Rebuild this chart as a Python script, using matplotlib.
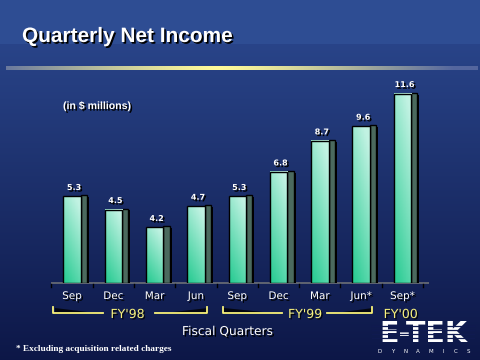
import numpy as np
import matplotlib
matplotlib.use('Agg')
import matplotlib.pyplot as plt
from matplotlib.patches import Rectangle, Polygon
import matplotlib.patheffects as pe

quarters = ['Sep', 'Dec', 'Mar', 'Jun', 'Sep', 'Dec', 'Mar', 'Jun*', 'Sep*']
bar_heights = [5.3, 4.5, 3.4, 4.7, 5.3, 6.8, 8.7, 9.6, 11.6]
value_labels = ['5.3', '4.5', '4.2', '4.7', '5.3', '6.8', '8.7', '9.6', '11.6']
fiscal_years = ["FY'98", "FY'99", "FY'00"]

W, H = 480, 360
fig = plt.figure(figsize=(4.8, 3.6), dpi=100)

# background in pixel coordinates (y down)
bg = fig.add_axes([0, 0, 1, 1])
bg.set_xlim(0, W)
bg.set_ylim(H, 0)
bg.axis('off')
top = np.array([0.175, 0.29, 0.57])
bot = np.array([0.05, 0.09, 0.28])
t = np.linspace(0, 1, 200)[:, None]
grad = top * (1 - t) + bot * t
bg.imshow(grad[:, None, :], extent=[0, W, H, 0], aspect='auto', zorder=0)
bg.add_patch(Rectangle((0, 0), W, 44, color=(0.18, 0.30, 0.575), lw=0, zorder=0.5))

shadow = [pe.withSimplePatchShadow(offset=(1.2, -1.2), shadow_rgbFace='black', alpha=1)]

# title
bg.text(22, 42, 'Quarterly Net Income', fontsize=15, fontweight='bold',
        family='Liberation Sans', color='white', va='baseline', path_effects=shadow, zorder=3)

# yellow gradient rule
xs = np.linspace(-1, 1, 300)
w = np.clip(1 - np.abs(xs + 0.1) ** 1.3, 0, 1)[:, None]
c_end = np.array([0.33, 0.40, 0.62])
c_mid = np.array([1.0, 0.98, 0.60])
rule = c_end * (1 - w) + c_mid * w
bg.imshow(rule[None, :, :], extent=[6, 478, 70, 66], aspect='auto', zorder=1)
bg.set_xlim(0, W)
bg.set_ylim(H, 0)

bg.text(63, 106, '(in $ millions)', fontsize=7.6, fontweight='bold', family='Liberation Sans',
        color='white', va='center', path_effects=shadow, zorder=3)

# main chart axes: y=0 at pixel 283, 16.35 px per unit, 41.3 px per category
ax = fig.add_axes([51.35 / W, 77 / H, 377.9 / W, 196 / H])
ax.set_xlim(-0.5, 8.65)
ax.set_ylim(0, 12)
ax.axis('off')
ax.patch.set_alpha(0)

px_x = 1 / 41.3
px_y = 1 / 16.35

# floor
ax.add_patch(Rectangle((-0.5, -1.5 * px_y), 9.15, 3 * px_y, color='#5d6270', lw=0, zorder=1, clip_on=False))
for b in np.arange(-0.5, 9.0, 1.0):
    ax.plot([b, b], [-1.5 * px_y, -4.5 * px_y], color='black', lw=1, zorder=1, clip_on=False)

front_w = 17.4 * px_x
side_w = 6.3 * px_x
green = np.array([0.17, 0.80, 0.58])
light = np.array([0.76, 0.95, 0.89])
gy, gx = np.mgrid[0:1:60j, 0:1:12j]
tt = np.clip(0.8 * gy + 0.35 * gx - 0.05, 0, 1)[..., None]
front_img = green * (1 - tt) + light * tt

for i, (h, lab) in enumerate(zip(bar_heights, value_labels)):
    x0 = i - front_w / 2
    x1 = x0 + front_w
    # shadow
    ax.add_patch(Rectangle((x0 + 2 * px_x, -1 * px_y), front_w + side_w, h, color='black', lw=0, zorder=2))
    # side face
    ax.add_patch(Polygon([(x1, 0), (x1 + side_w, 0), (x1 + side_w, h + 1 * px_y), (x1, h + 1 * px_y)],
                         closed=True, facecolor='#4b6a5e', edgecolor='black', lw=1, zorder=3))
    ax.imshow(front_img, extent=[x0, x1, 0, h], origin='lower', aspect='auto', zorder=4)
    ax.add_patch(Rectangle((x0, 0), front_w, h, facecolor='none', edgecolor='black', lw=1, zorder=5))
    ax.text(i + 2 * px_x, h + 9 * px_y, lab, fontsize=5.8, fontweight='bold', color='white',
            ha='center', va='center', path_effects=shadow, zorder=6)
    ax.text(i, -13 * px_y, quarters[i], fontsize=7.5, color='white', ha='center', va='center',
            path_effects=shadow, zorder=6, clip_on=False)

ax.set_xlim(-0.5, 8.65)
ax.set_ylim(0, 12)

# fiscal year brackets
yel = '#f8f27c'
yshadow = [pe.withSimplePatchShadow(offset=(1, -1), shadow_rgbFace='black', alpha=0.8)]
bg.plot([53.3, 53.3, 103], [306.5, 313, 313], color=yel, lw=1.3, path_effects=yshadow, zorder=3)
bg.plot([155, 206.7, 206.7], [313, 313, 306.5], color=yel, lw=1.3, path_effects=yshadow, zorder=3)
bg.plot([222.7, 222.7, 281.7], [306.5, 313, 313], color=yel, lw=1.3, path_effects=yshadow, zorder=3)
bg.plot([326.7, 371.7, 371.7], [313, 313, 306.5], color=yel, lw=1.3, path_effects=yshadow, zorder=3)
for xc, fy in zip([127.5, 305, 400.7], fiscal_years):
    bg.text(xc, 314.5, fy, fontsize=9, color=yel, ha='center', va='center', path_effects=yshadow, zorder=3)

bg.text(227.7, 331.5, 'Fiscal Quarters', fontsize=8.8, color='white', ha='center', va='center',
        path_effects=shadow, zorder=3)

bg.text(16, 349, '* Excluding acquisition related charges', fontsize=6.65, fontweight='bold',
        family='Liberation Serif', color='white', ha='left', va='center', zorder=3)

# logo
bg.text(423, 342, 'E-TEK', fontsize=20.5, fontweight='bold', color='white', ha='center',
        va='baseline', zorder=3)
for yy in [326, 330, 334, 338]:
    bg.plot([372, 474], [yy, yy], color='#0f1a50', lw=0.9, zorder=4)
for k, ch in enumerate('DYNAMICS'):
    bg.text(380 + k * 12.6, 351.5, ch, fontsize=4.0, color='white', ha='center', va='center', zorder=3)

fig.savefig('out.png', dpi=100)
